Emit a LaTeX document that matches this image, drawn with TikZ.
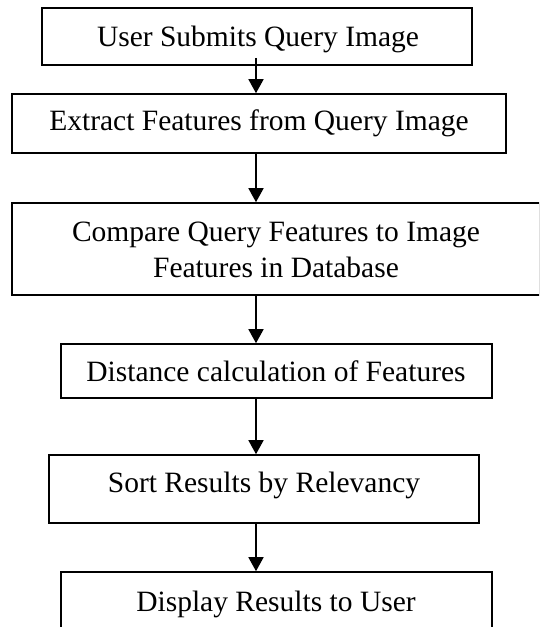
\documentclass[tikz,border=0pt]{standalone}
\usepackage{fontspec}
\setmainfont{Liberation Serif}
\usetikzlibrary{arrows.meta}
\begin{document}
\begin{tikzpicture}[x=1pt,y=-1pt,
  box/.style={draw, line width=1.6pt, rectangle, inner sep=0pt},
  lbl/.style={anchor=base, inner sep=0pt, font=\fontsize{29.5}{36}\selectfont},
  arr/.style={line width=1.6pt, -{Triangle[width=15pt,length=14pt]}}]
\useasboundingbox (0,0) rectangle (539,627);
\fill[white] (0,0) rectangle (539,627);
\clip (0,0) rectangle (539,627);
\coordinate (ax) at (256,0);
% boxes
\node[box, minimum width=430pt, minimum height=57pt] (b1) at (257,36.5) {};
\node[box, minimum width=494pt, minimum height=59pt] (b2) at (259,123.5) {};
\node[box, minimum width=528pt, minimum height=92pt] (b3) at (276,249) {};
\node[box, minimum width=431pt, minimum height=54pt] (b4) at (276.5,371) {};
\node[box, minimum width=430pt, minimum height=68pt] (b5) at (264,489) {};
\node[box, minimum width=431pt, minimum height=70pt] (b6) at (276.5,607) {};
% texts
\node[lbl] (t1) at (258,46) {User Submits Query Image};
\node[lbl] (t2) at (259,130) {Extract Features from Query Image};
\node[lbl] (t3a) at (276,241.5) {Compare Query Features to Image};
\node[lbl] (t3b) at (276,277.5) {Features in Database};
\node[lbl] (t4) at (276,381.5) {Distance calculation of Features};
\node[lbl] (t5) at (264,492) {Sort Results by Relevancy};
\node[lbl] (t6) at (276,611) {Display Results to User};
% arrows
\draw[arr] ([yshift=8pt]b1.south -| ax) -- (b2.north -| ax);
\draw[arr] (b2.south -| ax) -- (b3.north -| ax);
\draw[arr] (b3.south -| ax) -- (b4.north -| ax);
\draw[arr] (b4.south -| ax) -- (b5.north -| ax);
\draw[arr] (b5.south -| ax) -- (b6.north -| ax);
\end{tikzpicture}
\end{document}
